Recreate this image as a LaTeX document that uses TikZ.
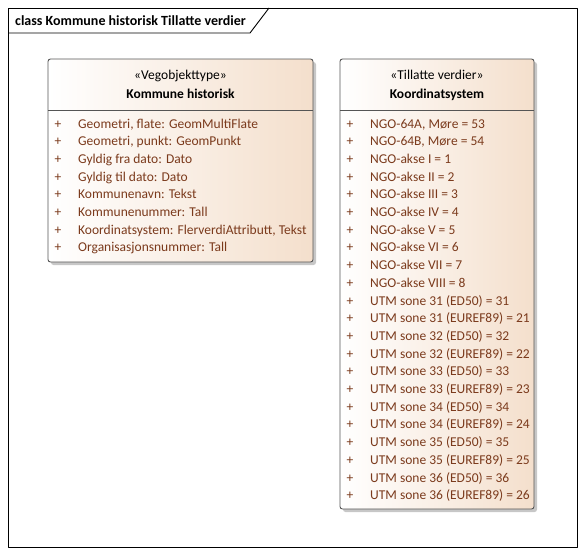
\documentclass[tikz,border=0pt]{standalone}
\usepackage{fontspec}
\setmainfont{Carlito}
\usetikzlibrary{calc,positioning}
\definecolor{attrtext}{HTML}{7B3A1C}
\definecolor{boxfill}{HTML}{F4DFCC}
\definecolor{boxline}{HTML}{555555}
\tikzset{
	umlbox/.style={draw=boxline, rounded corners=2.5pt, line width=0.9pt, left color=white, right color=boxfill},
	boxshadow/.style={fill=black!22, rounded corners=2.5pt},
	attr/.style={anchor=base west, text=attrtext, inner sep=0pt, font=\fontsize{13.5}{15}\selectfont},
	plus/.style={anchor=base, text=attrtext, inner sep=0pt, font=\fontsize{13.5}{15}\selectfont},
	head/.style={anchor=base, inner sep=0pt, font=\fontsize{13.5}{15}\selectfont},
}
\begin{document}
\begin{tikzpicture}[x=1pt,y=-1pt,line join=round]
		\useasboundingbox (0,0) rectangle (585,555);
		% frame
		\coordinate (FA) at (8,8);
		\coordinate (FB) at (577,547);
		\draw[line width=0.9pt] (FA) rectangle (FB);
		\draw[line width=0.9pt] (8,33) -- (250,33) -- (269,8);
		\node[anchor=base west, inner sep=0pt, font=\fontsize{14}{16}\selectfont\bfseries] (title) at (15,25) {class Kommune historisk Tillatte verdier};
		% Kommune historisk
		\coordinate (KA) at (48,59);
		\coordinate (KB) at (313,262);
		\fill[boxshadow] ($(KA)+(3,3)$) rectangle ($(KB)+(3,3)$);
		\shade[umlbox] (KA) rectangle (KB);
		\draw[boxline, line width=0.9pt] (48,110) -- (313,110);
		\node[head] (kstereo) at (180.5,79) {«Vegobjekttype»};
		\node[head, font=\fontsize{13.5}{15}\selectfont\bfseries] (kname) at (180.5,98) {Kommune historisk};
		\foreach \txt [count=\i] in {{Geometri, flate: GeomMultiFlate},{Geometri, punkt: GeomPunkt},{Gyldig fra dato: Dato},{Gyldig til dato: Dato},{Kommunenavn: Tekst},{Kommunenummer: Tall},{Koordinatsystem: FlerverdiAttributt, Tekst},{Organisasjonsnummer: Tall}}{
			\node[plus] (kp\i) at (58,128+17.7*\i-17.7) {+};
			\node[attr] (ka\i) at (78,128+17.7*\i-17.7) {\txt};
		}
		% Koordinatsystem
		\coordinate (TA) at (340,59);
		\coordinate (TB) at (534,509);
		\fill[boxshadow] ($(TA)+(3,3)$) rectangle ($(TB)+(3,3)$);
		\shade[umlbox] (TA) rectangle (TB);
		\draw[boxline, line width=0.9pt] (340,110) -- (534,110);
		\node[head] (tstereo) at (437,79) {«Tillatte verdier»};
		\node[head, font=\fontsize{13.5}{15}\selectfont\bfseries] (tname) at (437,98) {Koordinatsystem};
		\foreach \txt [count=\i] in {{NGO-64A, Møre = 53},{NGO-64B, Møre = 54},NGO-akse I = 1,NGO-akse II = 2,NGO-akse III = 3,NGO-akse IV = 4,NGO-akse V = 5,NGO-akse VI = 6,NGO-akse VII = 7,NGO-akse VIII = 8,UTM sone 31 (ED50) = 31,UTM sone 31 (EUREF89) = 21,UTM sone 32 (ED50) = 32,UTM sone 32 (EUREF89) = 22,UTM sone 33 (ED50) = 33,UTM sone 33 (EUREF89) = 23,UTM sone 34 (ED50) = 34,UTM sone 34 (EUREF89) = 24,UTM sone 35 (ED50) = 35,UTM sone 35 (EUREF89) = 25,UTM sone 36 (ED50) = 36,UTM sone 36 (EUREF89) = 26}{
			\node[plus] (tp\i) at (350,128+17.7*\i-17.7) {+};
			\node[attr] (ta\i) at (370,128+17.7*\i-17.7) {\txt};
		}
\end{tikzpicture}
\end{document}
